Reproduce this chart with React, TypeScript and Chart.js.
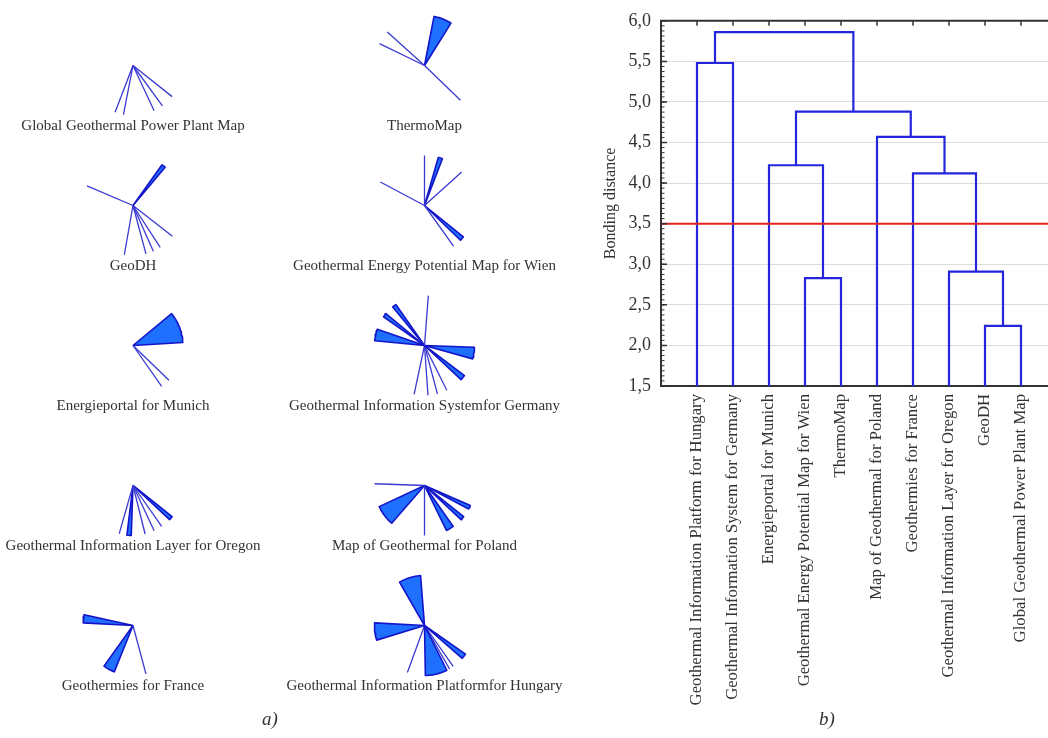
import React, { useEffect, useRef } from 'react';
import { Chart, registerables } from 'chart.js';

Chart.register(...registerables);

// ---------------- Dendrogram data (panel b) ----------------
const categories = [
  'Geothermal Information Platform for Hungary',
  'Geothermal Information System for Germany',
  'Energieportal for Munich',
  'Geothermal Energy Potential Map for Wien',
  'ThermoMap',
  'Map of Geothermal for Poland',
  'Geothermies for France',
  'Geothermal Information Layer for Oregon',
  'GeoDH',
  'Global Geothermal Power Plant Map',
];
// merge k creates node (10 + k) from mergeLeft[k] and mergeRight[k]
const mergeLeft = [8, 3, 7, 6, 2, 5, 14, 0, 17];
const mergeRight = [9, 4, 10, 12, 11, 13, 15, 1, 16];
const mergeHeight = [2.24, 2.83, 2.91, 4.12, 4.22, 4.57, 4.88, 5.48, 5.86];
const cutLevel = 3.5;
const yTicks = [1.5, 2.0, 2.5, 3.0, 3.5, 4.0, 4.5, 5.0, 5.5, 6.0];

// ---------------- Icon (pie-ray) data (panel a) ----------------
const glyphLabels = [
  'Global Geothermal Power Plant Map',
  'ThermoMap',
  'GeoDH',
  'Geothermal Energy Potential Map for Wien',
  'Energieportal for Munich',
  'Geothermal Information Systemfor Germany',
  'Geothermal Information Layer for Oregon',
  'Map of Geothermal for Poland',
  'Geothermies for France',
  'Geothermal Information Platformfor Hungary',
];
// each entry: [start angle, end angle] in degrees (0 = east, counter-clockwise)
const glyphGlobal = [[249, 249], [259, 259], [295, 295], [306, 306], [321.5, 321.5]];
const glyphThermo = [[138, 138], [154, 154], [316, 316], [58, 79]];
const glyphGeoDH = [[50, 54.5], [157, 157], [260, 260], [285, 285], [294, 294], [303, 303], [322, 322]];
const glyphWien = [[90, 90], [42, 42], [152, 152], [305.5, 305.5], [69, 74], [316, 321]];
const glyphMunich = [[3.5, 39.5], [305, 305], [316, 316]];
const glyphGermany = [[85.6, 85.6], [161, 174.5], [125, 129.5], [140.5, 145], [344.5, 358], [317, 323], [258, 258], [274, 274], [285, 285], [296.5, 296.5]];
const glyphOregon = [[254, 254], [284, 284], [295, 295], [305, 305], [263, 268], [317, 321.5]];
const glyphPoland = [[178, 178], [270, 270], [205, 229], [296, 305], [317, 321.5], [332, 336.5]];
const glyphFrance = [[167.5, 177], [234.5, 248], [285, 285]];
const glyphHungary = [[94.5, 120], [177, 197], [271, 296.5], [319, 325], [250, 250], [300, 300], [305, 305]];
const glyphSectors = [glyphGlobal, glyphThermo, glyphGeoDH, glyphWien, glyphMunich, glyphGermany, glyphOregon, glyphPoland, glyphFrance, glyphHungary];

// ---------------- layout / style constants ----------------
const LEFT_W = 590;
const H = 738;
const RIGHT_W = 1048 - LEFT_W;
const GLYPH_R = 50;
const COL_X = [133, 424.5];
const ROW_Y0 = 65.5;
const ROW_STEP = 140;
const LABEL_DY = 61;
const FILL = '#1f70ff';
const EDGE = '#1414c8';
const RAY = '#3a3ad2';
const DENDRO = '#2424dc';
const SERIF = '"Liberation Serif", "DejaVu Serif", serif';
const TEXT = '#333333';

function glyphDatasets() {
  const ds: any[] = [];
  glyphSectors.forEach((sectors, i) => {
    const cx = COL_X[i % 2];
    const cy = ROW_Y0 + Math.floor(i / 2) * ROW_STEP;
    const pt = (deg: number) => ({
      x: cx + GLYPH_R * Math.cos((deg * Math.PI) / 180),
      y: cy - GLYPH_R * Math.sin((deg * Math.PI) / 180),
    });
    sectors.forEach(([a0, a1]) => {
      if (a1 - a0 < 1) {
        ds.push({
          data: [{ x: cx, y: cy }, pt(a0)],
          showLine: true,
          borderColor: RAY,
          borderWidth: 1.3,
          pointRadius: 0,
          fill: false,
        });
      } else {
        const pts = [{ x: cx, y: cy }];
        const n = Math.max(2, Math.ceil((a1 - a0) / 2));
        for (let k = 0; k <= n; k++) pts.push(pt(a0 + ((a1 - a0) * k) / n));
        pts.push({ x: cx, y: cy });
        ds.push({
          data: pts,
          showLine: true,
          borderColor: EDGE,
          backgroundColor: FILL,
          borderWidth: 1.6,
          borderJoinStyle: 'round',
          pointRadius: 0,
          fill: 'shape',
        });
      }
    });
  });
  return ds;
}

const glyphLabelPlugin = {
  id: 'glyphLabels',
  afterDraw(chart: any) {
    const { ctx, scales } = chart;
    ctx.save();
    ctx.font = `15px ${SERIF}`;
    ctx.fillStyle = TEXT;
    ctx.textAlign = 'center';
    ctx.textBaseline = 'middle';
    glyphLabels.forEach((lab, i) => {
      const cx = COL_X[i % 2];
      const cy = ROW_Y0 + Math.floor(i / 2) * ROW_STEP + LABEL_DY;
      ctx.fillText(lab, scales.x.getPixelForValue(cx), scales.y.getPixelForValue(cy));
    });
    ctx.restore();
  },
};

const frameTicksPlugin = {
  id: 'frameTicks',
  afterDraw(chart: any) {
    const { ctx, chartArea, scales } = chart;
    const { left, right, top } = chartArea;
    ctx.save();
    ctx.strokeStyle = '#333333';
    ctx.lineWidth = 2;
    ctx.beginPath();
    ctx.moveTo(left - 1, top);
    ctx.lineTo(right, top);
    ctx.stroke();
    ctx.lineWidth = 1.5;
    ctx.beginPath();
    categories.forEach((_, i) => {
      const x = scales.x.getPixelForValue(i + 1);
      ctx.moveTo(x, top);
      ctx.lineTo(x, top + 5);
    });
    yTicks.forEach((v) => {
      const y = scales.y.getPixelForValue(v);
      ctx.moveTo(left, y);
      ctx.lineTo(left + 6, y);
    });
    ctx.stroke();
    ctx.lineWidth = 1;
    ctx.beginPath();
    for (let v = yTicks[0]; v <= yTicks[yTicks.length - 1] + 1e-9; v += 0.0625) {
      const y = scales.y.getPixelForValue(v);
      ctx.moveTo(left, y);
      ctx.lineTo(left + 3.5, y);
    }
    ctx.stroke();
    ctx.restore();
  },
};

function dendroDatasets() {
  const nodeX: number[] = [];
  const nodeH: number[] = [];
  categories.forEach((_, i) => {
    nodeX[i] = i + 1;
    nodeH[i] = yTicks[0];
  });
  const ds: any[] = [
    {
      data: [{ x: 0, y: cutLevel }, { x: 10.75, y: cutLevel }],
      showLine: true,
      borderColor: '#e8201c',
      borderWidth: 2,
      pointRadius: 0,
    },
  ];
  mergeLeft.forEach((l, k) => {
    const r = mergeRight[k];
    const h = mergeHeight[k];
    const id = categories.length + k;
    nodeX[id] = (nodeX[l] + nodeX[r]) / 2;
    nodeH[id] = h;
    ds.push({
      data: [
        { x: nodeX[l], y: nodeH[l] },
        { x: nodeX[l], y: h },
        { x: nodeX[r], y: h },
        { x: nodeX[r], y: nodeH[r] },
      ],
      showLine: true,
      borderColor: DENDRO,
      borderWidth: 2.2,
      pointRadius: 0,
      borderJoinStyle: 'miter',
    });
  });
  return ds;
}

export default function App() {
  const leftRef = useRef<HTMLCanvasElement>(null);
  const rightRef = useRef<HTMLCanvasElement>(null);

  useEffect(() => {
    const left = new Chart(leftRef.current!, {
      type: 'scatter',
      data: { datasets: glyphDatasets() },
      options: {
        animation: false,
        responsive: false,
        events: [],
        layout: { padding: 0 },
        plugins: { legend: { display: false }, tooltip: { enabled: false } },
        scales: {
          x: { type: 'linear', min: 0, max: LEFT_W, display: false },
          y: { type: 'linear', min: 0, max: H, reverse: true, display: false },
        },
      },
      plugins: [glyphLabelPlugin],
    } as any);

    const right = new Chart(rightRef.current!, {
      type: 'scatter',
      data: { datasets: dendroDatasets() },
      options: {
        animation: false,
        responsive: false,
        events: [],
        layout: { padding: { top: 13, left: 0, right: 0, bottom: 0 } },
        plugins: { legend: { display: false }, tooltip: { enabled: false } },
        scales: {
          x: {
            type: 'linear',
            min: 0,
            max: 10.75,
            afterBuildTicks: (s: any) => {
              s.ticks = categories.map((_, i) => ({ value: i + 1 }));
            },
            afterFit: (s: any) => {
              s.height = H - 386;
            },
            ticks: {
              autoSkip: false,
              minRotation: 90,
              maxRotation: 90,
              padding: 0,
              color: TEXT,
              font: { family: SERIF, size: 16.7 },
              callback: (v: any) => categories[Number(v) - 1] ?? '',
            },
            grid: { display: false },
            border: { display: true, color: '#333333', width: 2 },
          },
          y: {
            type: 'linear',
            min: yTicks[0],
            max: yTicks[yTicks.length - 1],
            afterBuildTicks: (s: any) => {
              s.ticks = yTicks.map((v) => ({ value: v }));
            },
            afterFit: (s: any) => {
              s.width = 71;
            },
            ticks: {
              padding: 10,
              color: TEXT,
              font: { family: SERIF, size: 18 },
              callback: (v: any) => Number(v).toFixed(1).replace('.', ','),
            },
            grid: { color: '#dcdcdc', lineWidth: 1, drawTicks: false },
            border: { display: true, color: '#333333', width: 2 },
            title: {
              display: true,
              text: 'Bonding distance',
              color: TEXT,
              font: { family: SERIF, size: 16 },
              padding: { top: 11, bottom: 0 },
            },
          },
        },
      },
      plugins: [frameTicksPlugin],
    } as any);

    return () => {
      left.destroy();
      right.destroy();
    };
  }, []);

  const caption: React.CSSProperties = {
    position: 'absolute',
    top: 708,
    fontFamily: SERIF,
    fontStyle: 'italic',
    fontSize: 19,
    color: TEXT,
  };

  return (
    <div style={{ position: 'fixed', left: 0, top: 0, width: 1048, height: H, background: '#fff', overflow: 'hidden' }}>
      <canvas ref={leftRef} width={LEFT_W} height={H} style={{ position: 'absolute', left: 0, top: 0, width: LEFT_W, height: H }} />
      <canvas ref={rightRef} width={RIGHT_W} height={H} style={{ position: 'absolute', left: LEFT_W, top: 0, width: RIGHT_W, height: H }} />
      <span style={{ ...caption, left: 262 }}>a)</span>
      <span style={{ ...caption, left: 819 }}>b)</span>
    </div>
  );
}
